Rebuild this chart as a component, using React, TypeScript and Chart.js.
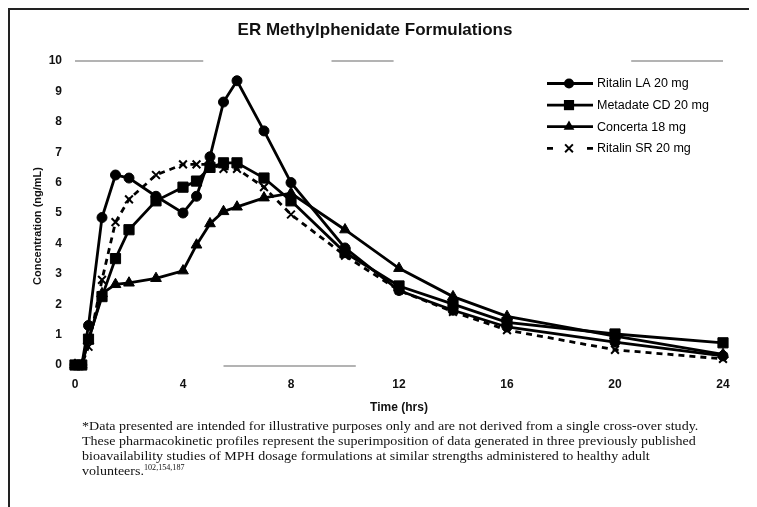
import React, { useEffect, useRef } from "react";
import { Chart, registerables } from "chart.js";

Chart.register(...registerables);

const chartTitle = "ER Methylphenidate Formulations";
const xAxisTitle = "Time (hrs)";
const yAxisTitle = "Concentration (ng/mL)";

const hours = [0, 0.25, 0.5, 1, 1.5, 2, 3, 4, 4.5, 5, 5.5, 6, 7, 8, 10, 12, 14, 16, 20, 24];
const ritalinLA = [0, 0, 1.3, 4.85, 6.25, 6.15, 5.55, 5.0, 5.55, 6.85, 8.65, 9.35, 7.7, 6.0, 3.85, 2.45, 1.8, 1.25, 0.75, 0.3];
const metadateCD = [0, 0, 0.85, 2.25, 3.5, 4.45, 5.4, 5.85, 6.05, 6.5, 6.65, 6.65, 6.15, 5.4, 3.7, 2.6, 2.0, 1.4, 1.02, 0.73];
const concerta = [0, 0, 0.8, 2.35, 2.65, 2.7, 2.85, 3.1, 3.95, 4.65, 5.05, 5.2, 5.5, 5.65, 4.45, 3.18, 2.25, 1.6, 0.95, 0.35];
const ritalinSR = [0, 0, 0.6, 2.8, 4.7, 5.45, 6.25, 6.6, 6.6, 6.6, 6.45, 6.45, 5.85, 4.95, 3.6, 2.45, 1.75, 1.15, 0.5, 0.2];

const seriesNames = ["Ritalin LA 20 mg", "Metadate CD 20 mg", "Concerta 18 mg", "Ritalin SR 20 mg"];

const xMin = 0;
const xMax = 24;
const xStep = 4;
const yMin = 0;
const yMax = 10;
const yStep = 1;

// faint, broken axis rules seen in the scan (in data units: [from hour, to hour])
const topRuleSegments = [[0, 4.75], [9.5, 11.8], [20.6, 24]];
const bottomRuleSegments = [[5.5, 10.4]];

const footnoteLines = [
  "*Data presented are intended for illustrative purposes only and are not derived from a single cross-over study.",
  "These pharmacokinetic profiles represent the superimposition of data generated in three previously published",
  "bioavailability studies of MPH dosage formulations at similar strengths administered to healthy adult",
];
const footnoteLast = "volunteers.";
const footnoteRefs = "102,154,187";

const SANS = "'Liberation Sans', Arial, Helvetica, sans-serif";

function drawMarker(ctx: CanvasRenderingContext2D, style: string, x: number, y: number, r: number) {
  ctx.beginPath();
  if (style === "circle") {
    ctx.arc(x, y, r, 0, Math.PI * 2);
    ctx.fill();
  } else if (style === "rect") {
    const s = r * Math.SQRT1_2;
    ctx.rect(x - s, y - s, 2 * s, 2 * s);
    ctx.fill();
  } else if (style === "triangle") {
    ctx.moveTo(x, y - r);
    ctx.lineTo(x + r * Math.sin((2 * Math.PI) / 3), y - r * Math.cos((2 * Math.PI) / 3));
    ctx.lineTo(x + r * Math.sin((4 * Math.PI) / 3), y - r * Math.cos((4 * Math.PI) / 3));
    ctx.closePath();
    ctx.fill();
  } else if (style === "crossRot") {
    const d = r * Math.SQRT1_2;
    ctx.moveTo(x - d, y - d);
    ctx.lineTo(x + d, y + d);
    ctx.moveTo(x - d, y + d);
    ctx.lineTo(x + d, y - d);
    ctx.stroke();
  }
}

const decorPlugin = {
  id: "decor",
  beforeDatasetsDraw(chart: any) {
    const { ctx, scales } = chart;
    const x = scales.x;
    const y = scales.y;
    ctx.save();
    ctx.strokeStyle = "#9a9a9a";
    ctx.lineWidth = 1.5;
    const yTop = y.getPixelForValue(yMax);
    const yBot = y.getPixelForValue(yMin) + 1;
    for (const [a, b] of topRuleSegments) {
      ctx.beginPath();
      ctx.moveTo(x.getPixelForValue(a), yTop);
      ctx.lineTo(x.getPixelForValue(b), yTop);
      ctx.stroke();
    }
    for (const [a, b] of bottomRuleSegments) {
      ctx.beginPath();
      ctx.moveTo(x.getPixelForValue(a), yBot);
      ctx.lineTo(x.getPixelForValue(b), yBot);
      ctx.stroke();
    }
    ctx.restore();
  },
  afterDraw(chart: any) {
    const { ctx, chartArea } = chart;
    ctx.save();
    // title
    ctx.fillStyle = "#111";
    ctx.font = `bold 17px ${SANS}`;
    ctx.textAlign = "center";
    ctx.textBaseline = "middle";
    ctx.fillText(chartTitle, 365, 20);

    // y-axis title
    ctx.save();
    ctx.translate(27.5, (chartArea.top + chartArea.bottom) / 2 + 13);
    ctx.rotate(-Math.PI / 2);
    ctx.font = `bold 11px ${SANS}`;
    ctx.fillText(yAxisTitle, 0, 0);
    ctx.restore();

    // legend
    const lx = chartArea.right - 176;
    const ly = chartArea.top + 22.5;
    const step = 21.6;
    chart.data.datasets.forEach((ds: any, i: number) => {
      const yy = ly + i * step;
      ctx.strokeStyle = "#000";
      ctx.fillStyle = "#000";
      ctx.lineWidth = ds.borderWidth;
      ctx.setLineDash([]);
      ctx.beginPath();
      if (ds.borderDash && ds.borderDash.length) {
        ctx.moveTo(lx, yy);
        ctx.lineTo(lx + 6, yy);
        ctx.moveTo(lx + 40, yy);
        ctx.lineTo(lx + 46, yy);
      } else {
        ctx.moveTo(lx, yy);
        ctx.lineTo(lx + 46, yy);
      }
      ctx.stroke();
      ctx.lineWidth = ds.pointBorderWidth;
      drawMarker(ctx, ds.pointStyle, lx + 22, yy, ds.pointRadius);
      ctx.font = `12.5px ${SANS}`;
      ctx.textAlign = "left";
      ctx.textBaseline = "middle";
      ctx.fillStyle = "#000";
      ctx.fillText(ds.label, lx + 50, yy + 0.5);
    });
    ctx.restore();
  },
};

function toPoints(values: number[]) {
  return hours.map((h, i) => ({ x: h, y: values[i] }));
}

export default function App() {
  const canvasRef = useRef<HTMLCanvasElement | null>(null);

  useEffect(() => {
    const canvas = canvasRef.current;
    if (!canvas) return;
    const common = {
      borderColor: "#000",
      backgroundColor: "#000",
      pointBackgroundColor: "#000",
      pointBorderColor: "#000",
      borderWidth: 2.8,
      tension: 0,
      clip: false,
    };
    const chart = new Chart(canvas, {
      type: "line",
      data: {
        datasets: [
          { ...common, label: seriesNames[0], data: toPoints(ritalinLA), pointStyle: "circle", pointRadius: 5, pointBorderWidth: 1 },
          { ...common, label: seriesNames[1], data: toPoints(metadateCD), pointStyle: "rect", pointRadius: 7.2, pointBorderWidth: 1 },
          { ...common, label: seriesNames[2], data: toPoints(concerta), pointStyle: "triangle", pointRadius: 6.2, pointBorderWidth: 1 },
          { ...common, label: seriesNames[3], data: toPoints(ritalinSR), pointStyle: "crossRot", pointRadius: 5.5, pointBorderWidth: 2, borderDash: [6, 5] },
        ],
      } as any,
      options: {
        animation: false,
        responsive: false,
        devicePixelRatio: 1,
        layout: { padding: { left: 0, right: 34, top: 51, bottom: 87 } },
        plugins: {
          legend: { display: false },
          title: { display: false },
          tooltip: { enabled: false },
        },
        scales: {
          x: {
            type: "linear",
            min: xMin,
            max: xMax,
            border: { display: false },
            grid: { display: false, drawTicks: false },
            ticks: {
              stepSize: xStep,
              padding: 12,
              color: "#111",
              font: { family: SANS, size: 12, weight: "bold" },
            },
            title: {
              display: true,
              text: xAxisTitle,
              color: "#111",
              font: { family: SANS, size: 12, weight: "bold" },
              padding: { top: 0, bottom: 5 },
            },
            afterFit: (s: any) => {
              s.height = 55;
            },
          },
          y: {
            type: "linear",
            min: yMin,
            max: yMax,
            border: { display: false },
            grid: { display: false, drawTicks: false },
            ticks: {
              stepSize: yStep,
              padding: 13,
              color: "#111",
              font: { family: SANS, size: 12, weight: "bold" },
            },
            afterFit: (s: any) => {
              s.width = 65;
            },
          },
        },
      } as any,
      plugins: [decorPlugin],
    });
    return () => chart.destroy();
  }, []);

  return (
    <div
      style={{
        position: "relative",
        width: 749,
        height: 499,
        boxSizing: "border-box",
        borderTop: "2px solid #222",
        borderLeft: "2px solid #222",
        background: "#fff",
      }}
    >
      <canvas ref={canvasRef} width={747} height={497} style={{ display: "block", width: 747, height: 497 }} />
      <div
        style={{
          position: "absolute",
          left: 72,
          top: 407.5,
          font: "13px 'Liberation Serif', 'Times New Roman', serif",
          lineHeight: "15px",
          color: "#111",
          whiteSpace: "nowrap",
          transform: "scaleX(1.08)",
          transformOrigin: "left top",
        }}
      >
        {footnoteLines.map((l, i) => (
          <div key={i}>{l}</div>
        ))}
        <div>
          {footnoteLast}
          <span style={{ fontSize: 7.5, position: "relative", top: -5 }}>{footnoteRefs}</span>
        </div>
      </div>
    </div>
  );
}
